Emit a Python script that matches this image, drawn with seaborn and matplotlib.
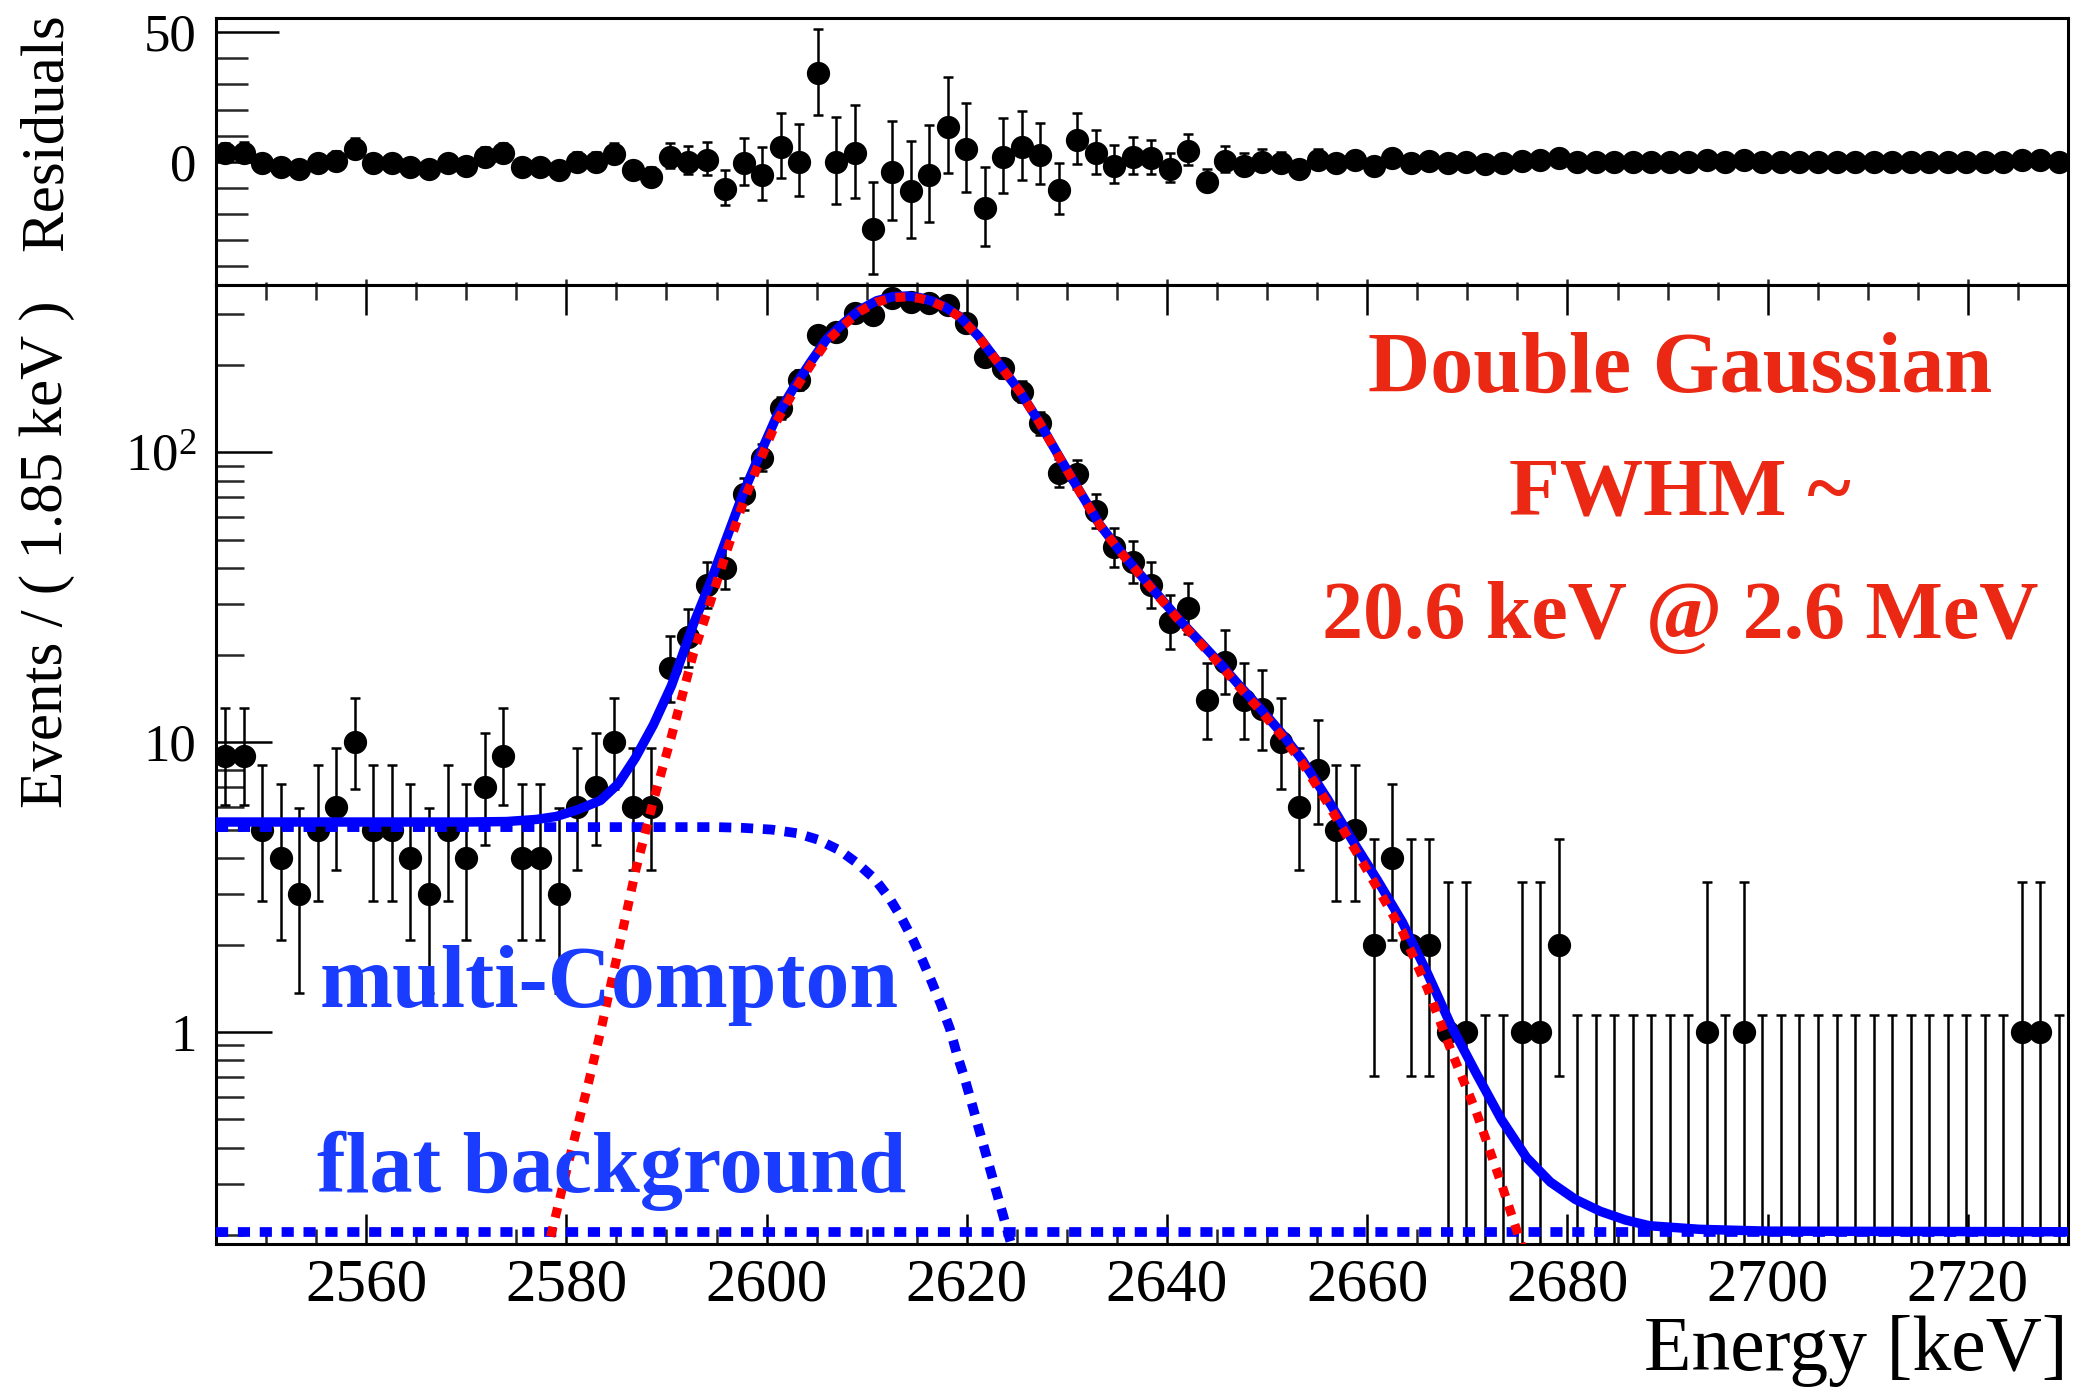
import math
import numpy as np
import pandas as pd
import matplotlib
matplotlib.use("Agg")
import matplotlib.pyplot as plt
from matplotlib.ticker import FixedLocator, FixedFormatter, MultipleLocator, NullFormatter, LogLocator
import seaborn as sns

# ---------------- data ----------------
BIN_LOW = 2545.0
BIN_WIDTH = 1.85
N_BINS = 100

counts = [9, 9, 5, 4, 3, 5, 6, 10, 5, 5,
          4, 3, 5, 4, 7, 9, 4, 4, 3, 6,
          7, 10, 6, 6, 18, 23, 35, 40, 72, 96,
          142, 178, 254, 261, 302, 298, 340, 331, 327, 323,
          280, 214, 195, 162, 126, 85, 84, 63, 47, 42,
          35, 26, 29, 14, 19, 14, 13, 10, 6, 8,
          5, 5, 2, 4, 2, 2, 1, 1, 0, 0,
          1, 1, 2, 0, 0, 0, 0, 0, 0, 0,
          1, 0, 1, 0, 0, 0, 0, 0, 0, 0,
          0, 0, 0, 0, 0, 0, 0, 1, 1, 0]

residuals = [3.2, 3.3, -0.6, -1.9, -3.0, -0.6, 0.4, 4.8, -0.6, -0.6,
             -1.9, -3.0, -0.6, -1.6, 1.8, 3.2, -1.9, -1.9, -3.2, 0.0,
             0.0, 3.0, -3.2, -5.8, 1.7, 0.0, 0.6, -10.5, -0.4, -5.1,
             5.8, 0.0, 34.0, 0.0, 3.5, -26.0, -3.8, -11.2, -5.1, 13.5,
             4.9, -17.9, 1.9, 5.8, 2.6, -10.9, 8.3, 3.2, -1.5, 1.9,
             1.3, -2.9, 4.1, -7.7, 0.4, -1.5, 0.0, -0.6, -2.9, 0.8,
             -0.6, 0.7, -1.5, 1.3, -0.4, 0.1, -0.5, -0.2, -0.9, -0.7,
             0.4, 0.5, 1.5, -0.25, -0.25, -0.25, -0.22, -0.22, -0.22, -0.22,
             0.6, -0.21, 0.6, -0.21, -0.21, -0.21, -0.21, -0.21, -0.21, -0.21,
             -0.21, -0.21, -0.21, -0.21, -0.21, -0.21, -0.21, 0.6, 0.6, -0.21]

# fit curves
total_E = [2545.0, 2560.0, 2570.0, 2574.0, 2577.0, 2579.0, 2581.1, 2583.4, 2585.2, 2586.9,
           2588.7, 2590.5, 2592.7, 2594.4, 2596.0, 2597.7, 2599.3, 2601.0, 2602.7, 2604.4,
           2606.0, 2607.7, 2609.3, 2611.0, 2612.7, 2614.0, 2615.3, 2616.5, 2617.7, 2619.3,
           2621.2, 2623.3, 2625.3, 2627.3, 2629.3, 2631.3, 2633.3, 2635.3, 2637.3, 2639.3,
           2641.3, 2643.3, 2645.3, 2647.3, 2649.3, 2651.4, 2653.5, 2656.0, 2658.5, 2661.0,
           2663.5, 2666.0, 2668.4, 2670.9, 2673.4, 2675.9, 2678.3, 2680.8, 2683.3, 2685.8,
           2688.2, 2693.2, 2700.0, 2730.0]
total_V = [5.31, 5.31, 5.31, 5.33, 5.42, 5.55, 5.85, 6.3, 7.2, 8.85,
           11.5, 15.7, 25.6, 35.8, 50.6, 72.8, 98.0, 133.0, 167.0, 205.0,
           246.0, 279.5, 310.0, 333.6, 345.0, 346.3, 342.0, 332.7, 319.5, 294.0,
           250.7, 200.5, 162.2, 126.2, 95.7, 73.2, 56.2, 45.7, 38.0, 31.6,
           26.3, 22.2, 18.7, 15.6, 13.1, 10.8, 8.7, 6.4, 4.6, 3.35,
           2.4, 1.6, 1.05, 0.72, 0.50, 0.37, 0.304, 0.265, 0.241, 0.225,
           0.215, 0.209, 0.206, 0.205]

gauss_E = [2577.0, 2578.2, 2580.2, 2582.2, 2583.4, 2585.2, 2586.9, 2588.7, 2590.5, 2592.7,
           2594.4, 2596.0, 2597.7, 2599.3, 2601.0, 2602.7, 2604.4, 2606.0, 2607.7, 2609.3,
           2611.0, 2612.7, 2614.0, 2615.3, 2616.5, 2617.7, 2619.3, 2621.2, 2623.3, 2625.3,
           2627.3, 2629.3, 2631.3, 2633.3, 2635.3, 2637.3, 2639.3, 2641.3, 2643.3, 2645.3,
           2647.3, 2649.3, 2651.4, 2653.5, 2656.0, 2658.5, 2661.0, 2663.5, 2666.0, 2668.4,
           2670.9, 2673.4, 2675.1, 2676.0]
gauss_V = [0.125, 0.183, 0.354, 0.667, 1.0, 1.92, 3.59, 6.3, 10.5, 20.3,
           30.6, 45.5, 67.7, 93.0, 128.0, 162.0, 200.0, 241.0, 275.0, 306.0,
           330.0, 342.0, 344.0, 340.0, 331.0, 318.0, 293.0, 250.0, 200.0, 162.0,
           126.0, 95.5, 73.0, 56.0, 45.5, 37.8, 31.4, 26.1, 22.0, 18.5,
           15.4, 12.9, 10.6, 8.5, 6.2, 4.43, 3.15, 2.23, 1.42, 0.86,
           0.53, 0.30, 0.199, 0.16]

compton_E = [2545.0, 2595.0, 2597.6, 2600.5, 2603.0, 2605.1, 2607.3, 2609.0, 2610.8, 2612.3,
             2613.5, 2614.6, 2615.6, 2616.5, 2617.4, 2618.3, 2619.0, 2619.8, 2620.5, 2621.2,
             2621.9, 2622.6, 2623.3, 2624.0, 2624.6, 2625.2]
compton_V = [5.1, 5.1, 5.07, 5.0, 4.86, 4.62, 4.24, 3.84, 3.38, 2.89,
             2.47, 2.09, 1.76, 1.49, 1.25, 1.03, 0.842, 0.69, 0.567, 0.465,
             0.381, 0.312, 0.256, 0.21, 0.177, 0.15]

flat_E = [2545.0, 2730.0]
flat_V = [0.205, 0.205]

x_major = [2560, 2580, 2600, 2620, 2640, 2660, 2680, 2700, 2720]
x_labels = ["2560", "2580", "2600", "2620", "2640", "2660", "2680", "2700", "2720"]
y_major = [1, 10, 100]
y_labels = ["1", "10", r"$\mathregular{10^{2}}$"]
res_major = [0, 50]
res_labels = ["0", "50"]

# Poisson 68% intervals (small counts), approximation above
POIS_LO = {0: 0.0, 1: 0.827, 2: 1.292, 3: 1.633, 4: 1.914, 5: 2.160, 6: 2.380,
           7: 2.581, 8: 2.768, 9: 2.943, 10: 3.109}
POIS_HI = {0: 1.148, 1: 2.300, 2: 2.638, 3: 2.918, 4: 3.163, 5: 3.382, 6: 3.584,
           7: 3.770, 8: 3.945, 9: 4.110, 10: 4.267}


def pois_err(n):
    if n in POIS_LO:
        return POIS_LO[n], POIS_HI[n]
    return math.sqrt(n - 0.25), math.sqrt(n + 0.75) + 1.0


centers = [BIN_LOW + BIN_WIDTH * (i + 0.5) for i in range(N_BINS)]
errs = [pois_err(n) for n in counts]
err_lo = [e[0] for e in errs]
err_hi = [e[1] for e in errs]

df = pd.DataFrame({"E": centers, "N": counts, "res": residuals,
                   "lo": err_lo, "hi": err_hi})

# ---------------- style ----------------
sns.set_theme(style="ticks")
plt.rcParams["font.family"] = ["Liberation Serif", "DejaVu Serif"]
plt.rcParams["mathtext.fontset"] = "stix"
plt.rcParams["axes.linewidth"] = 2.2
plt.rcParams["axes.edgecolor"] = "black"

W, H = 2081, 1388
fig = plt.figure(figsize=(W / 100, H / 100), dpi=100)
fig.patch.set_facecolor("white")

L, R = 216, 2068
res_top, res_bot = 18, 285
main_top, main_bot = 285, 1244
ax_res = fig.add_axes([L / W, 1 - res_bot / H, (R - L) / W, (res_bot - res_top) / H])
ax = fig.add_axes([L / W, 1 - main_bot / H, (R - L) / W, (main_bot - main_top) / H])

XLIM = (2545, 2730)
BLUE = "#0000FF"
RED = "#FF0000"
MS = 280

# ---------------- main panel ----------------
ax.set_yscale("log")
ax.set_xlim(*XLIM)
ax.set_ylim(0.186, 378)

pos = df[df["N"] > 0]
y_val = [n if n > 0 else 1e-3 for n in df["N"]]
y_lo = [max(min(lo, v - 1e-3), 0) if n > 0 else 0 for n, lo, v in zip(df["N"], df["lo"], y_val)]
y_hi = [n + hi - v for n, hi, v in zip(df["N"], df["hi"], y_val)]
ax.errorbar(df["E"], y_val, yerr=[y_lo, y_hi],
            fmt="none", ecolor="black", elinewidth=1.8, capsize=3.8, capthick=1.8, zorder=2)
sns.scatterplot(data=pos, x="E", y="N", ax=ax, color="black", s=MS, marker="o",
                linewidth=0, zorder=3, legend=False)

sns.lineplot(x=total_E, y=total_V, ax=ax, color=BLUE, lw=6.8, sort=False,
             estimator=None, legend=False, zorder=4)
ln = sns.lineplot(x=compton_E, y=compton_V, ax=ax, color=BLUE, lw=7.0, sort=False,
                  estimator=None, legend=False, zorder=5).lines[-1]
ln.set_linestyle((0, (1.25, 1.0)))
ln.set_dash_capstyle("butt")
ln = sns.lineplot(x=flat_E, y=flat_V, ax=ax, color=BLUE, lw=7.0, sort=False,
                  estimator=None, legend=False, zorder=5).lines[-1]
ln.set_linestyle((0, (1.25, 1.0)))
ln = sns.lineplot(x=gauss_E, y=gauss_V, ax=ax, color=RED, lw=6.6, sort=False,
                  estimator=None, legend=False, zorder=6).lines[-1]
ln.set_linestyle((0, (1.1, 1.05)))

ax.set_xlabel("")
ax.set_ylabel("")
ax.xaxis.set_major_locator(FixedLocator(x_major))
ax.xaxis.set_major_formatter(FixedFormatter(x_labels))
ax.xaxis.set_minor_locator(MultipleLocator(5))
ax.yaxis.set_major_locator(FixedLocator(y_major))
ax.yaxis.set_major_formatter(FixedFormatter(y_labels))
ax.yaxis.set_minor_locator(LogLocator(base=10, subs=[2, 3, 4, 5, 6, 7, 8, 9], numticks=20))
ax.yaxis.set_minor_formatter(NullFormatter())
ax.tick_params(axis="x", which="major", direction="in", length=21.6, width=1.8,
               top=True, bottom=True, labelsize=44, pad=10, colors="black")
ax.tick_params(axis="x", which="minor", direction="in", length=10.8, width=1.8,
               top=True, bottom=True)
ax.tick_params(axis="y", which="major", direction="in", length=40, width=1.8,
               left=True, right=False, labelsize=38, pad=14, colors="black")
ax.tick_params(axis="y", which="minor", direction="in", length=20, width=1.8,
               left=True, right=False)
for s in ax.spines.values():
    s.set_visible(True)
    s.set_linewidth(2.2)
    s.set_color("black")

ax.text(1.0, -0.131, "Energy [keV]", transform=ax.transAxes, ha="right", va="baseline",
        fontsize=56, color="black")

# ---------------- residual panel ----------------
ax_res.set_xlim(*XLIM)
ax_res.set_ylim(-47.4, 55.2)
ax_res.errorbar(df["E"], df["res"], yerr=[df["lo"], df["hi"]], fmt="none",
                ecolor="black", elinewidth=1.8, capsize=3.8, capthick=1.8, zorder=2)
sns.scatterplot(data=df, x="E", y="res", ax=ax_res, color="black", s=MS, marker="o",
                linewidth=0, zorder=3, legend=False)
ax_res.set_xlabel("")
ax_res.set_ylabel("")
ax_res.xaxis.set_major_locator(FixedLocator(x_major))
ax_res.xaxis.set_minor_locator(MultipleLocator(5))
ax_res.xaxis.set_major_formatter(NullFormatter())
ax_res.yaxis.set_major_locator(FixedLocator(res_major))
ax_res.yaxis.set_major_formatter(FixedFormatter(res_labels))
ax_res.yaxis.set_minor_locator(MultipleLocator(10))
ax_res.tick_params(axis="x", which="major", direction="in", length=4.5, width=1.8,
                   top=False, bottom=True)
ax_res.tick_params(axis="x", which="minor", direction="in", length=2.3, width=1.8,
                   top=False, bottom=True)
ax_res.tick_params(axis="y", which="major", direction="in", length=45, width=1.8,
                   left=True, right=False, labelsize=38, pad=14, colors="black")
ax_res.tick_params(axis="y", which="minor", direction="in", length=23, width=1.8,
                   left=True, right=False)
for s in ax_res.spines.values():
    s.set_visible(True)
    s.set_linewidth(2.2)
    s.set_color("black")

# ---------------- labels & annotations ----------------
fig.text(0.0225, 0.601, "Events / ( 1.85 keV )", rotation=90, ha="center", va="center",
         fontsize=44, color="black")
fig.text(0.0225, 0.9045, "Residuals", rotation=90, ha="center", va="center",
         fontsize=44, color="black")

TXT_RED = "#EB2814"
TXT_BLUE = "#1A3CFF"
fig.text(1680 / W, 1 - 392 / H, "Double Gaussian", ha="center", va="baseline",
         fontsize=62, fontweight="bold", color=TXT_RED)
fig.text(1680 / W, 1 - 515 / H, "FWHM ~", ha="center", va="baseline",
         fontsize=60, fontweight="bold", color=TXT_RED)
fig.text(1680 / W, 1 - 638 / H, "20.6 keV @ 2.6 MeV", ha="center", va="baseline",
         fontsize=59, fontweight="bold", color=TXT_RED)
fig.text(320 / W, 1 - 1007 / H, "multi-Compton", ha="left", va="baseline",
         fontsize=63, fontweight="bold", color=TXT_BLUE)
fig.text(317 / W, 1 - 1192 / H, "flat background", ha="left", va="baseline",
         fontsize=62, fontweight="bold", color=TXT_BLUE)

fig.savefig("out.png", dpi=100, facecolor="white")
